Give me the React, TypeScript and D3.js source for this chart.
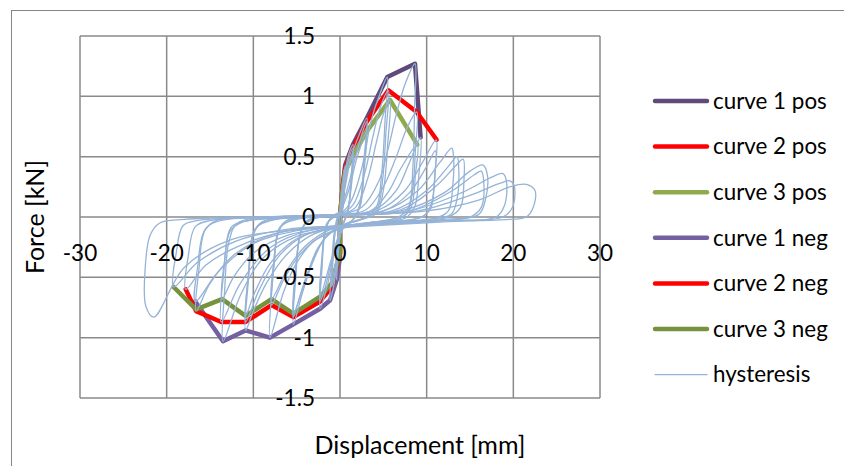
import React from 'react';
import * as d3 from 'd3';

type Pt = [number, number];

const xTicks = [-30, -20, -10, 0, 10, 20, 30];
const xTickLabels = ['-30', '-20', '-10', '0', '10', '20', '30'];
const yTicks = [-1.5, -1, -0.5, 0, 0.5, 1, 1.5];
const yTickLabels = ['-1.5', '-1', '-0.5', '0', '0.5', '1', '1.5'];

const curve1Pos: Pt[] = [[0, 0], [0.3, 0.25], [0.6, 0.43], [1.5, 0.6], [3.1, 0.82], [5.46, 1.16], [8.65, 1.27], [9.3, 0.66]];
const curve2Pos: Pt[] = [[0, 0], [0.3, 0.24], [0.6, 0.4], [1.5, 0.57], [3.08, 0.79], [5.58, 1.05], [8.85, 0.87], [11.15, 0.64]];
const curve3Pos: Pt[] = [[0, 0], [0.3, 0.22], [0.6, 0.38], [1.54, 0.51], [3.08, 0.71], [5.77, 0.97], [8.92, 0.6]];
const curve1Neg: Pt[] = [[0, 0], [0, -0.33], [-0.38, -0.52], [-1.15, -0.69], [-2.3, -0.76], [-5.38, -0.89], [-8.08, -1.0], [-10.9, -0.94], [-13.5, -1.03], [-16.7, -0.7]];
const curve2Neg: Pt[] = [[0, 0], [0, -0.3], [-0.96, -0.58], [-2.3, -0.7], [-5.38, -0.83], [-7.9, -0.73], [-10.9, -0.87], [-13.7, -0.87], [-16.6, -0.78], [-17.8, -0.6]];
const curve3Neg: Pt[] = [[0, 0], [0, -0.3], [-0.96, -0.55], [-2.3, -0.66], [-5.38, -0.8], [-7.9, -0.68], [-10.9, -0.82], [-13.6, -0.68], [-16.6, -0.765], [-19.2, -0.58]];

// Measured displacement/force record, one array per load cycle
const hysteresisCycles: Pt[][] = [
  [[0, 0], [0.2, 0.2], [0.4, 0.33], [0.6, 0.43], [0.5, 0.25], [0.3, 0.05], [0.1, -0.05], [-0.1, -0.2], [-0.3, -0.4], [-0.4, -0.52], [-0.3, -0.3], [-0.15, -0.08], [0, 0.02]],
  [[0, 0.02], [0.3, 0.22], [0.7, 0.42], [1.1, 0.54], [1.5, 0.6], [1.3, 0.35], [1.0, 0.08], [0.6, -0.02], [0.1, -0.12], [-0.3, -0.35], [-0.7, -0.56], [-1.15, -0.69], [-1.0, -0.45], [-0.7, -0.15], [-0.3, 0.0], [0, 0.05]],
  [[0, 0.05], [0.4, 0.25], [0.9, 0.45], [1.5, 0.57], [1.3, 0.3], [0.9, 0.05], [0.4, -0.05], [0, -0.15], [-0.5, -0.42], [-0.96, -0.58], [-0.8, -0.35], [-0.5, -0.08], [-0.1, 0.02]],
  [[-0.1, 0.02], [0.4, 0.22], [1.0, 0.42], [1.54, 0.51], [1.3, 0.25], [0.8, 0.02], [0.2, -0.08], [-0.4, -0.33], [-1.0, -0.55], [-0.8, -0.3], [-0.4, -0.05], [0, 0.03]],
  [[0, 0.03], [0.6, 0.25], [1.3, 0.5], [2.2, 0.68], [3.1, 0.82], [2.8, 0.5], [2.4, 0.15], [1.8, 0.0], [0.5, -0.08], [-0.5, -0.25], [-1.4, -0.55], [-2.3, -0.76], [-2.1, -0.45], [-1.7, -0.12], [-1.0, 0.0], [0, 0.04]],
  [[0, 0.04], [0.8, 0.22], [1.8, 0.5], [2.5, 0.68], [3.08, 0.79], [2.8, 0.45], [2.3, 0.1], [1.5, -0.02], [0.3, -0.1], [-0.8, -0.32], [-1.7, -0.58], [-2.3, -0.7], [-2.1, -0.4], [-1.6, -0.08], [-0.8, 0.0], [0, 0.03]],
  [[0, 0.03], [1.0, 0.22], [2.0, 0.5], [3.08, 0.71], [2.8, 0.4], [2.3, 0.08], [1.4, -0.03], [0.2, -0.1], [-1.0, -0.35], [-2.3, -0.66], [-2.1, -0.35], [-1.5, -0.05], [-0.6, 0.0], [0, 0.02]],
  [[0, 0.02], [1.2, 0.12], [2.5, 0.4], [3.6, 0.8], [4.5, 1.0], [5.46, 1.16], [5.2, 0.8], [4.8, 0.35], [4.2, 0.08], [3.0, 0.0], [0.5, -0.06], [-1.5, -0.15], [-3.0, -0.35], [-4.3, -0.62], [-5.38, -0.89], [-5.1, -0.5], [-4.6, -0.15], [-3.8, -0.03], [-2, 0.0], [0, 0.02]],
  [[0, 0.02], [1.5, 0.1], [2.8, 0.35], [3.9, 0.7], [4.7, 0.92], [5.58, 1.05], [5.3, 0.7], [4.9, 0.3], [4.2, 0.05], [2.5, -0.02], [0, -0.08], [-2, -0.2], [-3.5, -0.42], [-4.6, -0.65], [-5.38, -0.83], [-5.1, -0.45], [-4.5, -0.12], [-3.5, -0.02], [-1.5, 0.01], [0, 0.02]],
  [[0, 0.02], [1.8, 0.08], [3.2, 0.32], [4.2, 0.62], [5.0, 0.85], [5.77, 0.97], [5.5, 0.6], [5.0, 0.22], [4.2, 0.03], [2, -0.03], [-0.5, -0.1], [-2.5, -0.25], [-3.8, -0.48], [-5.38, -0.8], [-5.1, -0.42], [-4.4, -0.1], [-3.2, -0.02], [-1, 0.01], [0, 0.02]],
  [[0, 0.02], [2.5, 0.08], [4.5, 0.3], [5.5, 0.55], [6.5, 0.85], [7.5, 1.1], [8.65, 1.27], [8.6, 0.9], [8.4, 0.4], [7.9, 0.08], [6.5, -0.01], [3, -0.05], [0, -0.1], [-3, -0.2], [-5, -0.38], [-6.5, -0.62], [-8.08, -1.0], [-7.8, -0.55], [-7.2, -0.15], [-6.2, -0.03], [-3, 0.0], [0, 0.02]],
  [[0, 0.02], [3, 0.06], [5, 0.25], [6.5, 0.5], [7.8, 0.75], [8.85, 0.87], [8.7, 0.55], [8.3, 0.18], [7.6, 0.02], [5, -0.03], [1, -0.08], [-2, -0.15], [-4.5, -0.3], [-6.5, -0.52], [-7.9, -0.73], [-7.6, -0.4], [-7.0, -0.1], [-5.5, -0.02], [-2, 0.01], [0, 0.02]],
  [[0, 0.02], [3.5, 0.05], [5.5, 0.2], [7, 0.4], [8.92, 0.6], [8.7, 0.35], [8.2, 0.08], [7, -0.01], [3, -0.05], [-1, -0.1], [-4, -0.24], [-6.2, -0.45], [-7.9, -0.68], [-7.6, -0.35], [-6.9, -0.08], [-5, -0.02], [-1.5, 0.01], [0, 0.02]],
  [[0, 0.02], [4, 0.06], [6.5, 0.22], [8, 0.45], [9.3, 0.66], [9.1, 0.35], [8.6, 0.08], [7.5, -0.01], [4, -0.04], [0, -0.08], [-3, -0.14], [-6, -0.3], [-8.5, -0.55], [-10, -0.78], [-10.9, -0.94], [-10.6, -0.55], [-10, -0.15], [-9, -0.04], [-5, 0.0], [0, 0.02]],
  [[0, 0.02], [4.5, 0.06], [7.5, 0.22], [9.5, 0.45], [11.1, 0.64], [11.0, 0.4], [10.5, 0.1], [9.5, 0.0], [5, -0.04], [0, -0.08], [-4, -0.15], [-7, -0.32], [-9.3, -0.6], [-10.9, -0.87], [-10.6, -0.5], [-9.9, -0.12], [-8.5, -0.03], [-4, 0.0], [0, 0.02]],
  [[0, 0.02], [5, 0.05], [8, 0.2], [10, 0.42], [11, 0.55], [10.9, 0.3], [10.4, 0.06], [9, -0.01], [4, -0.05], [-1, -0.09], [-5, -0.18], [-8, -0.38], [-9.8, -0.62], [-10.9, -0.82], [-10.5, -0.45], [-9.8, -0.1], [-8, -0.03], [-3, 0.0], [0, 0.02]],
  [[0, 0.02], [5, 0.05], [9, 0.22], [11.5, 0.45], [12.9, 0.57], [13.1, 0.5], [13.0, 0.25], [12.5, 0.05], [11, -0.01], [5, -0.05], [0, -0.09], [-5, -0.16], [-9, -0.35], [-11.5, -0.65], [-13.5, -1.03], [-13.3, -0.6], [-12.8, -0.2], [-11.8, -0.05], [-7, 0.0], [0, 0.02]],
  [[0, 0.02], [6, 0.05], [10, 0.22], [12.5, 0.42], [13.5, 0.5], [13.7, 0.4], [13.5, 0.15], [12.8, 0.02], [10, -0.02], [3, -0.06], [-3, -0.1], [-8, -0.25], [-11.5, -0.55], [-13.7, -0.87], [-13.4, -0.45], [-12.7, -0.12], [-11.2, -0.04], [-6, 0.0], [0, 0.02]],
  [[0, 0.02], [7, 0.06], [11, 0.25], [13.3, 0.42], [14.2, 0.48], [14.3, 0.3], [13.9, 0.08], [12.5, 0.0], [6, -0.04], [0, -0.08], [-6, -0.15], [-10, -0.3], [-12.3, -0.5], [-13.6, -0.68], [-13.3, -0.35], [-12.5, -0.08], [-10.5, -0.03], [-5, 0.0], [0, 0.02]],
  [[0, 0.02], [7, 0.05], [12, 0.2], [15, 0.38], [16.5, 0.43], [17, 0.35], [16.8, 0.15], [16, 0.02], [12, -0.02], [4, -0.06], [-4, -0.1], [-10, -0.22], [-14, -0.45], [-16.7, -0.7], [-16.4, -0.4], [-15.7, -0.12], [-14.3, -0.03], [-8, 0.0], [0, 0.02]],
  [[0, 0.02], [8, 0.05], [13, 0.22], [15.5, 0.35], [16.3, 0.38], [16.6, 0.28], [16.3, 0.08], [15, 0.0], [8, -0.04], [0, -0.08], [-7, -0.13], [-12, -0.3], [-15, -0.55], [-16.6, -0.78], [-16.3, -0.45], [-15.5, -0.1], [-13.8, -0.03], [-7, 0.0], [0, 0.02]],
  [[0, 0.02], [8, 0.05], [14, 0.2], [17.5, 0.33], [18.8, 0.36], [19.2, 0.3], [19, 0.1], [18, 0.0], [12, -0.03], [3, -0.07], [-5, -0.1], [-11, -0.22], [-15.5, -0.4], [-17.8, -0.6], [-17.5, -0.32], [-16.7, -0.08], [-15, -0.03], [-8, 0.0], [0, 0.02]],
  [[0, 0.02], [9, 0.05], [15, 0.18], [18.5, 0.28], [19.6, 0.3], [20.1, 0.26], [19.9, 0.08], [18.8, 0.0], [12, -0.03], [2, -0.07], [-6, -0.1], [-12, -0.2], [-16.5, -0.38], [-19.2, -0.58], [-18.9, -0.3], [-18.1, -0.07], [-16.5, -0.03], [-9, 0.0], [0, 0.02]],
  [[0, 0.02], [10, 0.05], [16, 0.14], [19.6, 0.25], [21.5, 0.27], [22.5, 0.22], [22.3, 0.08], [21.5, 0.0], [19.5, -0.02], [12, -0.04], [2, -0.08], [-6, -0.11], [-13, -0.2], [-18, -0.42], [-21.5, -0.83], [-22.4, -0.74], [-22.5, -0.45], [-21.9, -0.15], [-20.8, -0.05], [-18, -0.02], [-10, 0.0]],
];

const envelopeSeries = [
  { name: 'curve 1 pos', data: curve1Pos, color: '#604A7B' },
  { name: 'curve 2 pos', data: curve2Pos, color: '#FF0000' },
  { name: 'curve 3 pos', data: curve3Pos, color: '#8EAA4F' },
  { name: 'curve 1 neg', data: curve1Neg, color: '#7460A0' },
  { name: 'curve 2 neg', data: curve2Neg, color: '#FF0000' },
  { name: 'curve 3 neg', data: curve3Neg, color: '#76923C' },
];
const hysteresisColor = '#95B3D7';

const FONT = 'Lato, Calibri, "Open Sans", sans-serif';

export default function App() {
  const x = d3.scaleLinear().domain([-30, 30]).range([80, 600]);
  const y = d3.scaleLinear().domain([-1.5, 1.5]).range([398, 36]);

  const straight = d3.line<Pt>().x(d => x(d[0])).y(d => y(d[1]));
  const smooth = d3.line<Pt>().x(d => x(d[0])).y(d => y(d[1])).curve(d3.curveCatmullRom.alpha(0.5));

  const legendX = 655;
  const legendRows = [...envelopeSeries.map(s => ({ name: s.name, color: s.color, width: 4.5 })), { name: 'hysteresis', color: hysteresisColor, width: 1.3 }];
  const legendY = (i: number) => 101 + i * 45.6;

  return (
    <svg width={844} height={466} style={{ position: 'absolute', left: 0, top: 0, background: '#fff' }} fontFamily={FONT}>
      <rect x={0} y={0} width={844} height={466} fill="#fff" />
      <rect x={11.5} y={10.5} width={900} height={500} fill="none" stroke="#868686" strokeWidth={1} />

      {/* gridlines */}
      {xTicks.map(t => (
        <line key={'gx' + t} x1={x(t)} x2={x(t)} y1={y(1.5)} y2={y(-1.5)} stroke="#8A8A8A" strokeWidth={1.5} />
      ))}
      {yTicks.map(t => (
        <line key={'gy' + t} x1={x(-30)} x2={x(30)} y1={y(t)} y2={y(t)} stroke="#8A8A8A" strokeWidth={1.5} />
      ))}

      {/* envelope curves */}
      {envelopeSeries.map(s => (
        <path key={s.name} d={straight(s.data) ?? ''} fill="none" stroke={s.color} strokeWidth={4.5} strokeLinejoin="round" strokeLinecap="round" />
      ))}

      {/* hysteresis loops */}
      {hysteresisCycles.map((c, i) => (
        <path key={'h' + i} d={smooth(c) ?? ''} fill="none" stroke={hysteresisColor} strokeWidth={1.3} strokeLinejoin="round" />
      ))}

      {/* tick labels */}
      {yTicks.map((t, i) => (
        <text key={'ty' + t} x={x(0) - 25} y={y(t)} dy="0.35em" textAnchor="end" fontSize={22.5} fill="#000">{yTickLabels[i]}</text>
      ))}
      {xTicks.map((t, i) => (
        <text key={'tx' + t} x={x(t)} y={253} dy="0.35em" textAnchor="middle" fontSize={22.5} fill="#000">{xTickLabels[i]}</text>
      ))}

      {/* axis titles */}
      <text x={35} y={217} transform="rotate(-90 35 217)" dy="0.35em" textAnchor="middle" fontSize={25} fill="#000">Force [kN]</text>
      <text x={420} y={445} dy="0.35em" textAnchor="middle" fontSize={25} fill="#000">Displacement [mm]</text>

      {/* legend */}
      {legendRows.map((r, i) => (
        <g key={r.name}>
          <line x1={legendX} x2={legendX + 52} y1={legendY(i)} y2={legendY(i)} stroke={r.color} strokeWidth={r.width} strokeLinecap="round" />
          <text x={713} y={legendY(i)} dy="0.35em" fontSize={22.4} fill="#000">{r.name}</text>
        </g>
      ))}
    </svg>
  );
}
